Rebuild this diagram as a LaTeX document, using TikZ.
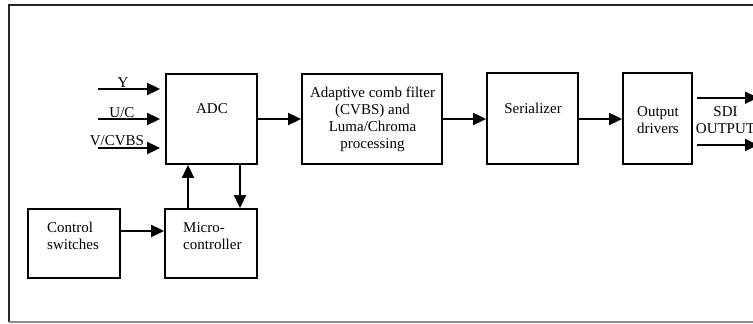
\documentclass[tikz,border=0pt]{standalone}
\usepackage{fontspec}
\setmainfont{Liberation Serif}
\usetikzlibrary{arrows.meta}
\begin{document}
\begin{tikzpicture}[x=1pt,y=-1pt,
  box/.style={draw, line width=1.8pt, inner sep=0pt},
  arr/.style={line width=1.8pt, -{Triangle[length=13pt,width=12pt]}},
  lbl/.style={anchor=base, inner sep=0pt, font=\fontsize{15}{17}\selectfont},
  lblw/.style={anchor=base west, inner sep=0pt, font=\fontsize{15}{17}\selectfont}]
\useasboundingbox (0,0) rectangle (753,324);
% frame
\draw[line width=2pt, black!85] (753,4.5) -- (9,4.5) -- (9,322);
\draw[line width=2pt, black!45] (9,322) -- (753,322);
% boxes
\node[box, minimum width=91pt, minimum height=90pt] (adc) at (211.5,119) {};
\node[box, minimum width=140pt, minimum height=90pt] (filt) at (372,119) {};
\node[box, minimum width=91pt, minimum height=91pt] (ser) at (532.5,118.5) {};
\node[box, minimum width=69pt, minimum height=91pt] (drv) at (657.5,118.5) {};
\node[box, minimum width=92pt, minimum height=69pt] (ctl) at (74,243.5) {};
\node[box, minimum width=92pt, minimum height=69pt] (mcu) at (211,243.5) {};
% texts
\node[lbl] (adct) at (212,113) {ADC};
\node[lbl] (ylab) at (123,87) {Y};
\node[lbl] (uclab) at (122,117) {U/C};
\node[lbl] (vlab) at (117,145) {V/CVBS};
\node[lbl] (f1) at (372.5,97) {Adaptive comb filter};
\node[lbl] (f2) at (372.5,114) {(CVBS) and};
\node[lbl] (f3) at (372.5,131) {Luma/Chroma};
\node[lbl] (f4) at (372.5,148) {processing};
\node[lbl] (sert) at (533,113) {Serializer};
\node[lbl] (d1) at (658,116) {Output};
\node[lbl] (d2) at (658,133) {drivers};
\node[lbl] (s1) at (725.5,116.5) {SDI};
\node[lbl] (s2) at (725.5,133.5) {OUTPUT};
\node[lblw] (c1) at (47,232) {Control};
\node[lblw] (c2) at (47,249) {switches};
\node[lblw] (m1) at (183,232) {Micro-};
\node[lblw] (m2) at (183,249) {controller};
% connectors
\coordinate (yin) at (98,89);
\coordinate (uin) at (98,119);
\coordinate (vin) at (98,148);
\draw[arr, shorten >=5pt] (yin) -- (adc.west |- yin);
\draw[arr, shorten >=5pt] (uin) -- (adc.west |- uin);
\draw[arr, shorten >=5pt] (vin) -- (adc.west |- vin);
\draw[arr] (adc.east |- 0,119) -- (filt.west |- 0,119);
\draw[arr] (filt.east |- 0,119) -- (ser.west |- 0,119);
\draw[arr] (ser.east |- 0,119) -- (drv.west |- 0,119);
\coordinate (sa0) at (697,97.7);
\coordinate (sa1) at (758,97.7);
\coordinate (sb0) at (697,145);
\coordinate (sb1) at (758,145);
\draw[arr] (sa0) -- (sa1);
\draw[arr] (sb0) -- (sb1);
\draw[arr] (ctl.east |- 0,231) -- (mcu.west |- 0,231);
\draw[arr] (mcu.north -| 188,0) -- (adc.south -| 188,0);
\draw[arr] (adc.south -| 240,0) -- (mcu.north -| 240,0);
\end{tikzpicture}
\end{document}
